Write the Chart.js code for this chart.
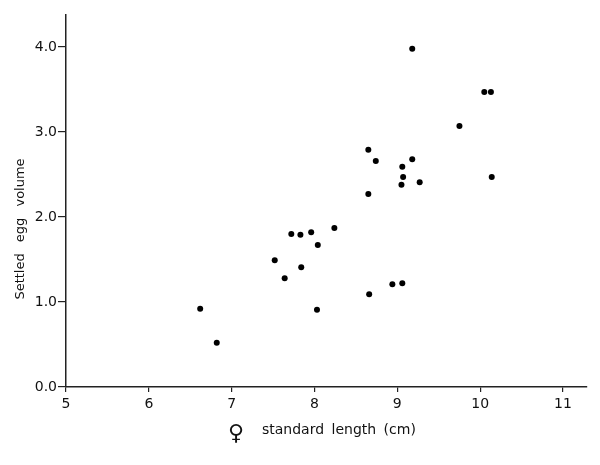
<!DOCTYPE html>
<html>
<head>
<meta charset="utf-8">
<script src="https://cdn.jsdelivr.net/npm/chart.js@4/dist/chart.umd.min.js"></script>
<style>
  html, body { margin: 0; padding: 0; background: #fff; }
  #wrap { width: 600px; height: 465px; position: relative; }
</style>
</head>
<body>
<div id="wrap"><canvas id="c" width="600" height="465"></canvas></div>
<script>
// Data
const lengthCm = [6.62, 6.82, 7.52, 7.64, 7.72, 7.83, 7.84, 7.96, 8.04, 8.03, 8.24, 8.65, 8.74, 8.65, 8.66, 8.94, 9.06, 9.06, 9.07, 9.05, 9.18, 9.27, 9.18, 9.75, 10.05, 10.13, 10.14];
const eggVolume = [0.92, 0.52, 1.49, 1.28, 1.80, 1.79, 1.41, 1.82, 1.67, 0.91, 1.87, 2.79, 2.66, 2.27, 1.09, 1.21, 1.22, 2.59, 2.47, 2.38, 2.68, 2.41, 3.98, 3.07, 3.47, 3.47, 2.47];
const xTicks = [5, 6, 7, 8, 9, 10, 11];
const yTicks = [0, 1, 2, 3, 4];
const xTitle = "standard length (cm)";
const xSymbol = "\u2640";
const yTitle = "Settled egg volume";

const points = lengthCm.map((x, i) => ({ x: x, y: eggVolume[i] }));
const FONT = "'DejaVu Sans', sans-serif";

const titlesPlugin = {
  id: 'titles',
  afterDraw(chart) {
    const ctx = chart.ctx;
    const area = chart.chartArea;
    ctx.save();
    ctx.fillStyle = '#111';
    // y title
    ctx.font = "13px " + FONT;
    try { ctx.wordSpacing = '7px'; } catch (e) {}
    ctx.translate(21, 229);
    ctx.rotate(-Math.PI / 2);
    ctx.textAlign = 'center';
    ctx.textBaseline = 'middle';
    ctx.fillText(yTitle, 0, 0);
    ctx.restore();

    ctx.save();
    ctx.fillStyle = '#111';
    try { ctx.wordSpacing = '3px'; } catch (e) {}
    ctx.textBaseline = 'middle';
    ctx.textAlign = 'center';
    ctx.font = "22px " + FONT;
    ctx.fillText(xSymbol, 236, 434);
    ctx.textAlign = 'left';
    ctx.font = "14px " + FONT;
    ctx.fillText(xTitle, 262, 430);
    ctx.restore();
  }
};

new Chart(document.getElementById('c'), {
  type: 'scatter',
  data: {
    datasets: [{
      data: points,
      backgroundColor: '#000',
      borderWidth: 0,
      pointRadius: 3,
      pointHoverRadius: 3
    }]
  },
  options: {
    responsive: false,
    animation: false,
    events: [],
    layout: { padding: { top: 15, right: 13, left: 0, bottom: 0 } },
    plugins: { legend: { display: false }, tooltip: { enabled: false } },
    scales: {
      x: {
        type: 'linear',
        min: 5,
        max: 11.29,
        afterFit(scale) { scale.height = 78; },
        afterBuildTicks(scale) { scale.ticks = xTicks.map(v => ({ value: v })); },
        border: { display: true, color: '#222', width: 1.5 },
        grid: { drawOnChartArea: false, drawTicks: true, tickLength: 5, color: '#222', lineWidth: 1.2 },
        ticks: {
          color: '#111',
          font: { family: FONT, size: 14 },
          padding: 4,
          maxRotation: 0,
          callback: (v) => String(v)
        },
        title: { display: false }
      },
      y: {
        type: 'linear',
        min: 0,
        max: 4.376,
        afterFit(scale) { scale.width = 66; },
        afterBuildTicks(scale) { scale.ticks = yTicks.map(v => ({ value: v })); },
        border: { display: true, color: '#222', width: 1.5 },
        grid: { drawOnChartArea: false, drawTicks: true, tickLength: 8, color: '#222', lineWidth: 1.2 },
        ticks: {
          color: '#111',
          font: { family: FONT, size: 14 },
          padding: 1,
          callback: (v) => Number(v).toFixed(1)
        },
        title: { display: false }
      }
    }
  },
  plugins: [titlesPlugin]
});
</script>
</body>
</html>
